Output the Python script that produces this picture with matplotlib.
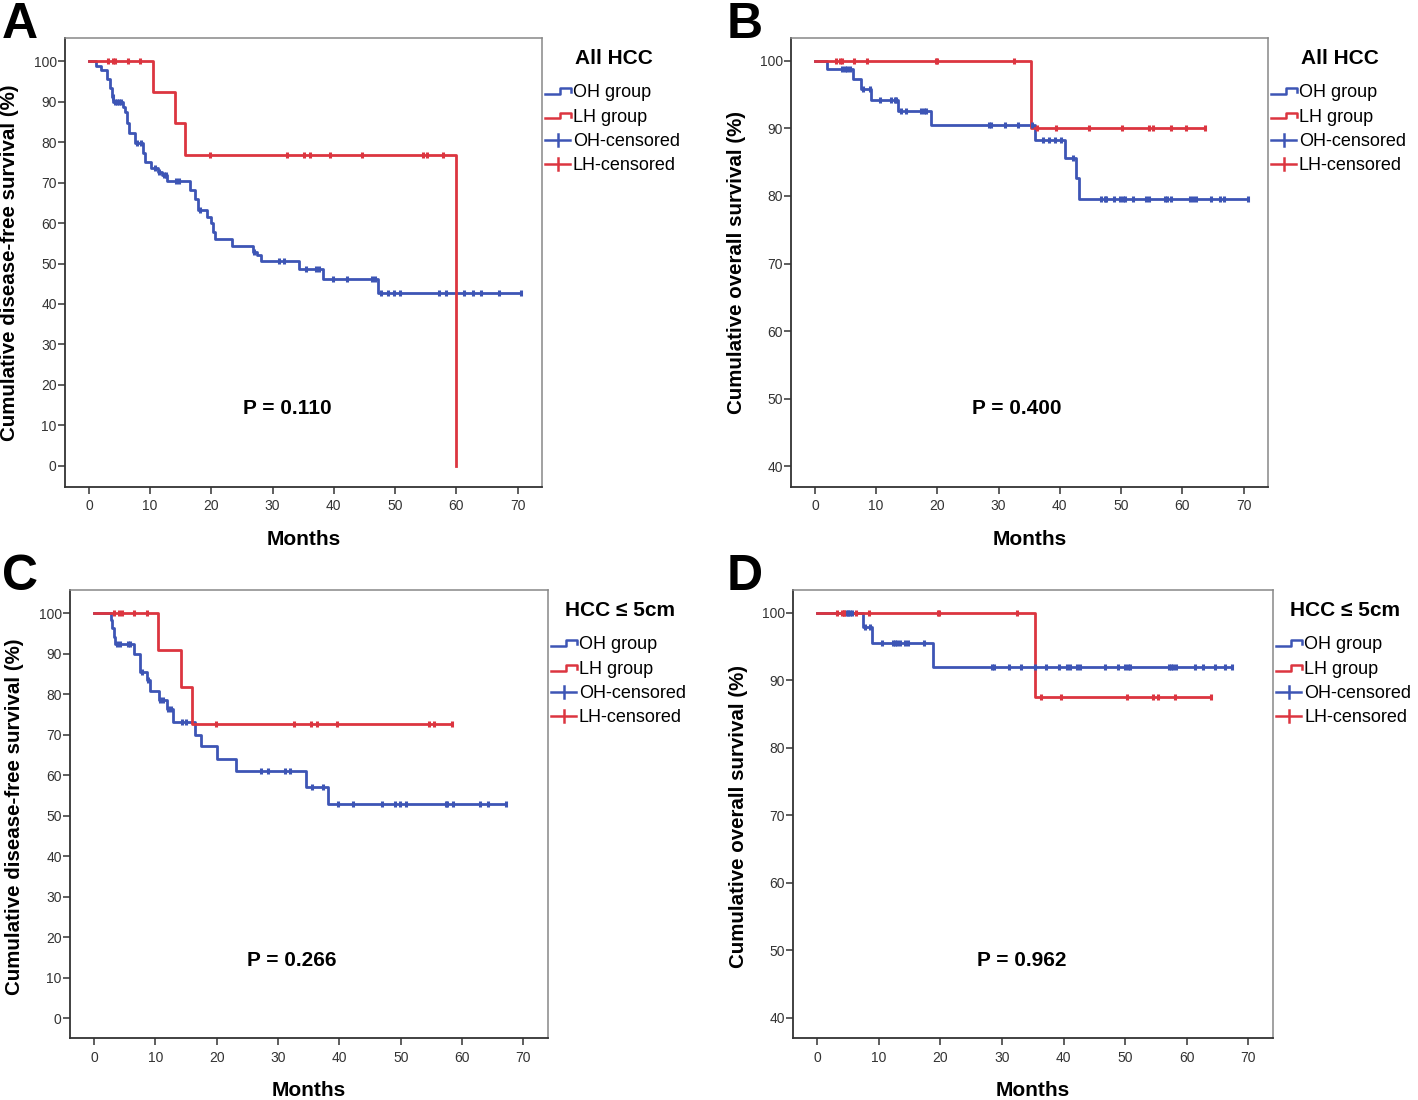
"""Kaplan-Meier curves, OH vs LH (four panels)"""

import numpy as np
import matplotlib

matplotlib.use("Agg")
import matplotlib.pyplot as plt
from matplotlib.lines import Line2D

plt.rcParams["font.family"] = ["Liberation Sans", "DejaVu Sans"]

W, H = 1418, 1100
BLUE = "#3d55b5"
RED = "#dc3540"

# ---- panel A: disease-free survival, all HCC ----
a_oh_t = [1.2, 2.0, 3.0, 3.4, 3.7, 4.0, 5.5, 5.9, 6.2, 6.6, 7.5, 8.9, 9.2, 10.2, 11.3,
          11.9, 12.8, 16.5, 17.3, 17.9, 19.3, 20.0, 20.3, 20.6, 23.3, 26.8, 27.5, 28.1,
          34.3, 38.3, 47.2]
a_oh_s = [98.9, 97.8, 95.6, 93.4, 91.2, 89.9, 88.6, 87.3, 84.8, 82.2, 79.7, 77.4, 75.1,
          73.6, 72.5, 71.8, 70.4, 68.1, 65.9, 63.2, 61.6, 60.0, 57.9, 56.0, 54.3, 52.9,
          52.1, 50.7, 48.6, 46.2, 42.8]
a_oh_c = [3.9, 4.3, 4.6, 5.0, 5.2, 7.8, 8.5, 10.8, 11.4, 12.2, 12.6, 14.3, 14.7, 18.2,
          27.0, 31.0, 31.8, 35.4, 37.1, 37.6, 39.9, 42.2, 46.3, 46.7, 47.7, 48.8, 49.8,
          50.8, 57.1, 58.3, 61.3, 62.7, 64.1, 66.9, 70.6]
a_lh_t = [10.4, 14.0, 15.7, 60.0]
a_lh_s = [92.3, 84.6, 76.9, 0.0]
a_lh_c = [3.2, 4.0, 4.2, 6.4, 8.4, 19.7, 32.4, 35.1, 36.1, 39.4, 44.6, 54.5, 55.2, 57.9]

# ---- panel B: overall survival, all HCC ----
b_oh_t = [1.9, 6.3, 7.6, 9.2, 13.6, 19.0, 35.9, 40.8, 42.7, 43.2]
b_oh_s = [98.8, 97.3, 95.8, 94.2, 92.6, 90.5, 88.3, 85.6, 82.6, 79.6]
b_oh_c = [4.5, 4.9, 5.3, 5.7, 7.8, 9.0, 10.6, 12.5, 13.1, 13.3, 14.1, 14.8, 17.4, 17.9,
          18.2, 28.4, 28.7, 31.1, 33.2, 35.5, 37.2, 38.2, 39.2, 40.2, 42.1, 46.8, 47.3,
          47.6, 48.8, 49.9, 50.3, 50.6, 51.9, 54.0, 54.5, 57.1, 57.5, 58.1, 61.2, 61.7,
          62.3, 64.7, 66.1, 66.8, 70.8]
b_lh_t = [35.3]
b_lh_s = [90.0]
b_lh_c = [3.4, 4.1, 4.5, 6.4, 8.5, 19.7, 19.9, 32.5, 36.2, 39.4, 44.7, 50.2, 54.5, 55.3,
          58.1, 60.6, 63.7]

# ---- panel C: disease-free survival, HCC <= 5cm ----
c_oh_t = [2.8, 3.0, 3.3, 3.5, 6.6, 7.5, 8.6, 9.2, 10.6, 11.9, 12.9, 16.5, 17.4, 20.1,
          23.2, 34.6, 38.2]
c_oh_s = [98.3, 96.2, 94.2, 92.3, 90.0, 85.5, 83.5, 80.8, 78.5, 76.2, 73.0, 70.0, 67.2,
          64.1, 61.0, 57.1, 52.8]
c_oh_c = [3.7, 4.3, 5.5, 5.8, 7.8, 8.8, 10.8, 11.2, 12.1, 12.5, 14.4, 15.0, 27.2, 28.3,
          31.1, 32.0, 35.6, 37.3, 39.7, 42.2, 46.9, 49.0, 49.9, 50.9, 57.3, 57.6, 58.5,
          62.9, 64.3, 67.2]
c_lh_t = [10.5, 14.2, 16.0]
c_lh_s = [90.9, 81.8, 72.7]
c_lh_c = [3.3, 4.1, 4.6, 6.5, 8.6, 19.9, 32.6, 35.3, 36.4, 39.6, 54.6, 55.4, 58.4]

# ---- panel D: overall survival, HCC <= 5cm ----
d_oh_t = [7.4, 9.0, 18.9]
d_oh_s = [97.9, 95.5, 92.0]
d_oh_c = [4.8, 5.1, 5.4, 5.6, 7.8, 8.6, 10.5, 12.4, 12.7, 12.9, 13.4, 14.3, 14.8, 17.3,
          28.4, 28.7, 31.1, 33.1, 35.4, 37.2, 39.2, 40.6, 41.0, 42.2, 42.6, 46.8, 48.8,
          50.0, 50.4, 50.8, 57.2, 57.5, 57.8, 58.3, 61.4, 62.7, 64.6, 66.2, 67.3]
d_lh_t = [35.4]
d_lh_s = [87.5]
d_lh_c = [3.2, 4.0, 4.3, 4.4, 6.3, 8.4, 19.7, 19.8, 32.5, 36.3, 39.6, 50.3, 54.6, 55.4,
          58.1, 63.9]

x_ticks = [0, 10, 20, 30, 40, 50, 60, 70]
dfs_ticks = [0, 10, 20, 30, 40, 50, 60, 70, 80, 90, 100]
os_ticks = [40, 50, 60, 70, 80, 90, 100]


def fx(x):
    return x / W


def fy(y):
    return 1 - y / H


def km_curve(ax, times, surv, cens, color):
    """階段状の生存曲線と打ち切り印"""
    t = np.array([0.0] + list(times))
    s = np.array([100.0] + list(surv))
    end = max(t[-1], max(cens))
    t = np.append(t, end)
    s = np.append(s, s[-1])
    ax.step(t, s, where="post", color=color, lw=2.0, zorder=3)
    idx = np.searchsorted(t, np.array(cens), side="right") - 1
    ax.plot(cens, s[idx], ls="none", marker="|", ms=5, mew=2.2, color=color, zorder=4)


def legend(fig, x0, rows, title, title_x, title_y):
    """SPSS風の凡例を図の座標で描く"""
    fig.text(fx(title_x), fy(title_y), title, ha="center", va="baseline",
             fontsize=15, fontweight="bold",
             family=["Liberation Sans", "DejaVu Sans"])
    labels = ["OH group", "LH group", "OH-censored", "LH-censored"]
    colors = [BLUE, RED, BLUE, RED]
    for i, (yc, lab, col) in enumerate(zip(rows, labels, colors)):
        if i < 2:
            xs = [x0, x0 + 15, x0 + 15, x0 + 26, x0 + 26]
            ys = [yc + 2.5, yc + 2.5, yc - 3.5, yc - 3.5, yc + 1]
            fig.add_artist(Line2D([fx(v) for v in xs], [fy(v) for v in ys],
                                  color=col, lw=1.8))
        else:
            fig.add_artist(Line2D([fx(x0), fx(x0 + 25)], [fy(yc), fy(yc)],
                                  color=col, lw=1.8))
            fig.add_artist(Line2D([fx(x0 + 12.5)] * 2, [fy(yc - 6), fy(yc + 6)],
                                  color=col, lw=1.8))
        fig.text(fx(x0 + 28), fy(yc + 6), lab, ha="left", va="baseline", fontsize=13)


def setup_axes(ax, ylim, yticks):
    ax.set_xlim(-3.9, 74)
    ax.set_ylim(*ylim)
    ax.set_xticks(x_ticks)
    ax.set_yticks(yticks)
    for side in ["left", "bottom"]:
        ax.spines[side].set_color("#333333")
        ax.spines[side].set_linewidth(1.3)
    for side in ["top", "right"]:
        ax.spines[side].set_color("#888888")
        ax.spines[side].set_linewidth(1.1)
    ax.tick_params(direction="out", length=5, width=1.1, color="#333333",
                   labelsize=10, labelcolor="#333333")
    ax.tick_params(axis="y", pad=1)
    ax.tick_params(axis="x", pad=4)


fig = plt.figure(figsize=(W / 100, H / 100), dpi=100)

panels = [
    # letter, letter x, box (l, t, r, b) in px, data, ylim, yticks, ylabel, p, p x, legend title
    ("A", 2, (65, 38, 542, 487), (a_oh_t, a_oh_s, a_oh_c, a_lh_t, a_lh_s, a_lh_c),
     (-5.2, 105.7), dfs_ticks, "Cumulative disease-free survival (%)", "P = 0.110", 287,
     "All HCC"),
    ("B", 727, (791, 38, 1268, 487), (b_oh_t, b_oh_s, b_oh_c, b_lh_t, b_lh_s, b_lh_c),
     (36.9, 103.4), os_ticks, "Cumulative overall survival (%)", "P = 0.400", 1017,
     "All HCC"),
    ("C", 2, (70, 590, 548, 1038), (c_oh_t, c_oh_s, c_oh_c, c_lh_t, c_lh_s, c_lh_c),
     (-4.9, 105.7), dfs_ticks, "Cumulative disease-free survival (%)", "P = 0.266", 292,
     "HCC \u2264 5cm"),
    ("D", 727, (793, 590, 1273, 1038), (d_oh_t, d_oh_s, d_oh_c, d_lh_t, d_lh_s, d_lh_c),
     (37.0, 103.4), os_ticks, "Cumulative overall survival (%)", "P = 0.962", 1022,
     "HCC \u2264 5cm"),
]

for letter, lx, (l, t, r, b), data, ylim, yticks, ylabel, ptext, px, ltitle in panels:
    ax = fig.add_axes([fx(l), fy(b), (r - l) / W, (b - t) / H])
    setup_axes(ax, ylim, yticks)
    oh_t, oh_s, oh_c, lh_t, lh_s, lh_c = data
    km_curve(ax, oh_t, oh_s, oh_c, BLUE)
    km_curve(ax, lh_t, lh_s, lh_c, RED)

    # パネル文字
    fig.text(fx(lx), fy(t), letter, ha="left", va="baseline",
             fontsize=36, fontweight="bold")
    # 軸ラベル
    fig.text(fx((l + r) / 2), fy(b + 58), "Months", ha="center", va="baseline",
             fontsize=15, fontweight="bold")
    fig.text(fx(l - 55), fy(t + 225 + (2 if t > 500 else 0)), ylabel, rotation=90,
             ha="center", va="center", fontsize=14.8, fontweight="bold")
    # P値
    fig.text(fx(px), fy(t + 376), ptext, ha="center", va="baseline",
             fontsize=15, fontweight="bold")
    # 凡例
    rows = [t + 53, t + 78, t + 102, t + 126]
    legend(fig, r + 3, rows, ltitle, r + 72, t + 26)

fig.savefig("out.png", dpi=100)
